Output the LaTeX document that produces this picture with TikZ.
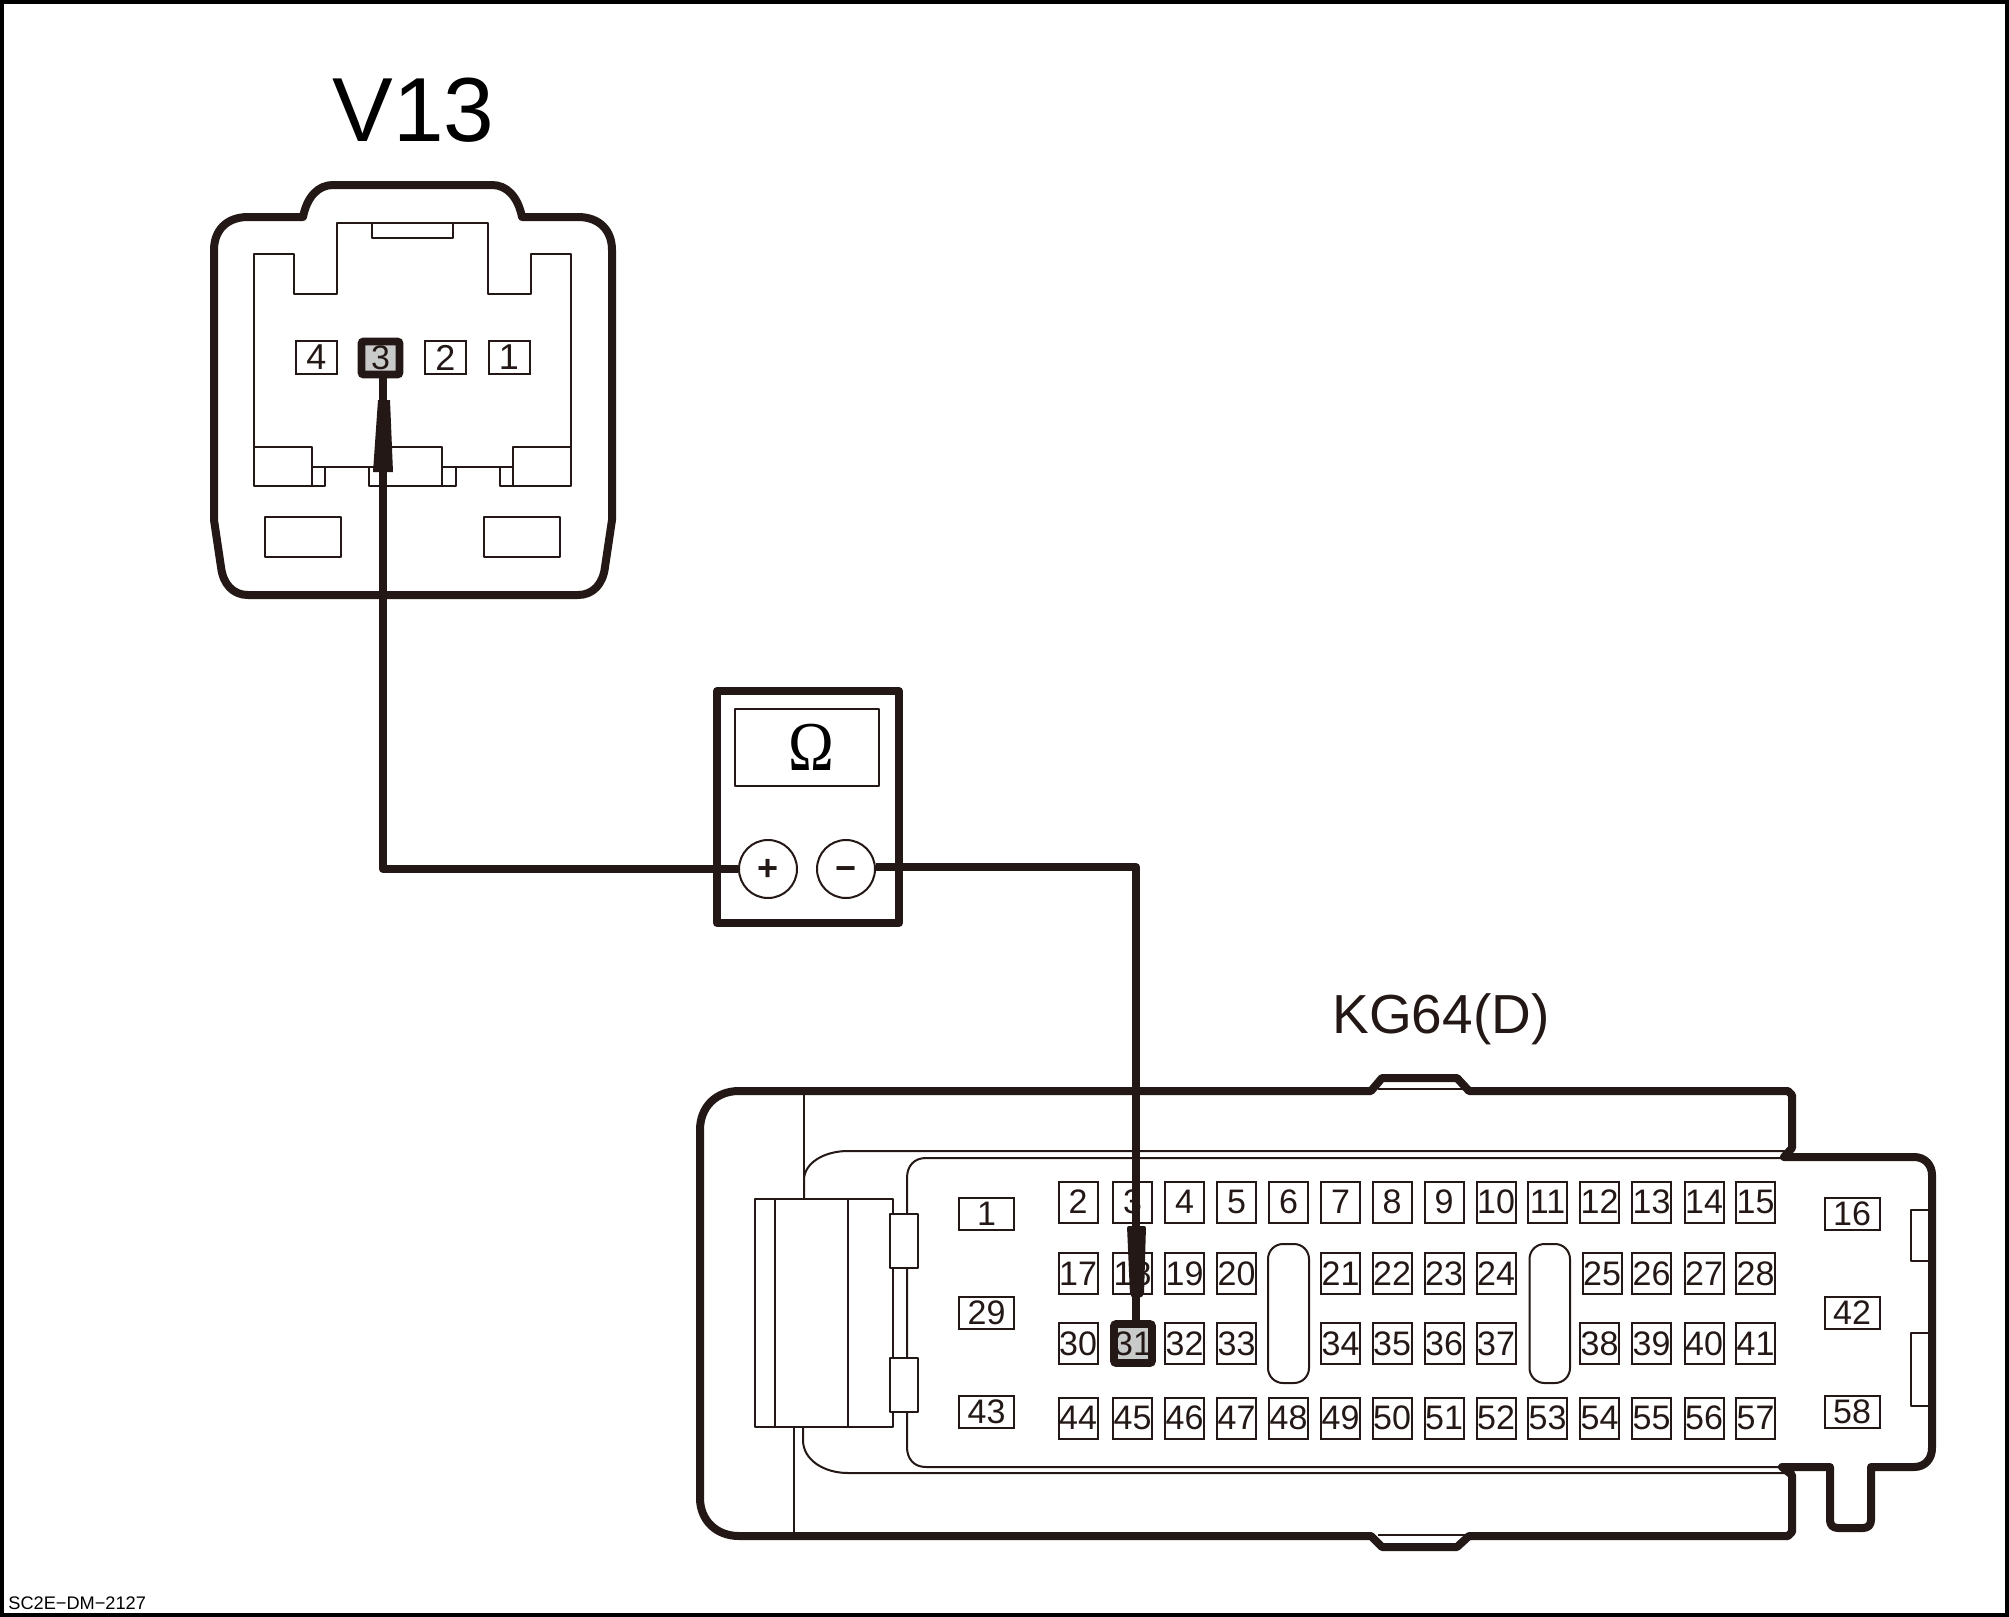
\documentclass[tikz,border=0pt]{standalone}
\usepackage{fontspec}
\setmainfont{Liberation Sans}
\newfontfamily\omegafont{Liberation Serif}
\usepackage{tkz-euclide}
\usetikzlibrary{calc}
\definecolor{ink}{HTML}{231815}
\definecolor{pingrey}{HTML}{C9CACA}
\tikzset{
  thick line/.style={ink, line width=4pt, line join=round, line cap=round},
  thin line/.style={ink, line width=1pt, line join=round},
  wire/.style={ink, line width=4pt, line join=round},
  pin/.style={draw=ink, line width=1pt, fill=white, inner sep=0pt, minimum width=19.5pt, minimum height=20.5pt, font=\fontsize{17}{17}\selectfont, text=ink},
  widepin/.style={pin, minimum width=27.5pt, minimum height=16pt},
  vpin/.style={pin, minimum width=20.5pt, minimum height=16.5pt, font=\fontsize{18}{18}\selectfont},
  hitpin/.style={draw=ink, line width=3.8pt, fill=pingrey, rounded corners=1pt, inner sep=0pt, font=\fontsize{17}{17}\selectfont, text=ink},
  jack/.style={circle, draw=ink, line width=1pt, fill=white, inner sep=0pt, minimum size=29pt, font=\fontsize{18}{18}\selectfont\bfseries, text=ink},
  title/.style={inner sep=0pt, text=ink}
}
\begin{document}
\begin{tikzpicture}[x=0.5pt, y=-0.5pt]
  \useasboundingbox (0,0) rectangle (2009,1617);
  \fill[white] (0,0) rectangle (2009,1617);
  \draw[black, line width=2.3pt] (2,2) rectangle (2007,1615);

  \node[title, text=black, font=\fontsize{45.5}{45.5}\selectfont] (vname) at (413.5,110) {V13};
  \node[title, font=\fontsize{27.5}{27.5}\selectfont] (kname) at (1441,1019) {KG64(D)};
  \node[anchor=base west, inner sep=0pt, text=black, font=\fontsize{9.1}{9.1}\selectfont] (code) at (8,1609) {SC2E−DM−2127};

  % connector V13
  \draw[thick line] (303,217) .. controls (307,197) and (318,185) .. (333,185) -- (492,185)
    .. controls (507,185) and (518,197) .. (522,217) -- (578,217)
    .. controls (600,217) and (612,231) .. (612,250) -- (612,520) -- (605,567)
    .. controls (603,584) and (593,595) .. (578,595) -- (248,595)
    .. controls (233,595) and (223,584) .. (221,567) -- (214,520) -- (214,250)
    .. controls (214,231) and (226,217) .. (248,217) -- cycle;
  \draw[thin line] (254,447) -- (254,254) -- (294,254) -- (294,294) -- (337,294) -- (337,223)
    -- (488,223) -- (488,294) -- (531,294) -- (531,254) -- (571,254) -- (571,486);
  \draw[thin line] (372,223) rectangle (453,238);
  \draw[thin line] (254,447) rectangle (312,486);
  \draw[thin line] (312,467) rectangle (325,486);
  \draw[thin line] (325,467) -- (369,467);
  \draw[thin line] (369,467) rectangle (383,486);
  \draw[thin line] (383,447) rectangle (442,486);
  \draw[thin line] (442,467) rectangle (456,486);
  \draw[thin line] (456,467) -- (500,467);
  \draw[thin line] (500,467) rectangle (513,486);
  \draw[thin line] (513,447) rectangle (571,486);
  \draw[thin line] (265,517) rectangle (341,557);
  \draw[thin line] (484,517) rectangle (560,557);
  \node[vpin] (v4) at (316.5,357.5) {4};
  \node[hitpin, minimum width=19pt, minimum height=16.5pt] (v3) at (380.5,358) {3};
  \node[vpin] (v2) at (445.5,357.5) {2};
  \node[vpin] (v1) at (509,357.5) {1};

  % meter
  \draw[ink, line width=4pt, line join=round] (717,691) rectangle (899,923);
  \draw[thin line] (735,709) rectangle (879,786);
  \node[title, text=black, font=\omegafont\fontsize{35}{35}\selectfont] (ohm) at (811,747) {\scalebox{0.88}[1]{Ω}};
  \node[jack] (plus) at (768,869) {\raisebox{-5.5pt}[0pt][0pt]{+}};
  \node[jack] (minus) at (846,869) {\raisebox{-5.5pt}[0pt][0pt]{−}};

  % connector KG64
  \draw[thick line] (739,1091) -- (1371,1091) -- (1382,1078) -- (1457,1078) -- (1469,1091)
    -- (1788,1091) -- (1792,1095) -- (1792,1148) -- (1784,1157) -- (1914,1157)
    .. controls (1925,1157) and (1932,1165) .. (1932,1175) -- (1932,1448)
    .. controls (1932,1459) and (1925,1467) .. (1914,1467) -- (1871,1467) -- (1871,1520)
    .. controls (1871,1525) and (1868,1528) .. (1863,1528) -- (1838,1528)
    .. controls (1833,1528) and (1830,1525) .. (1830,1520) -- (1830,1467) -- (1782,1467)
    -- (1792,1475) -- (1792,1532) -- (1788,1536) -- (1469,1536) -- (1457,1547)
    -- (1382,1547) -- (1371,1536) -- (739,1536)
    .. controls (716,1536) and (700,1520) .. (700,1498) -- (700,1130)
    .. controls (700,1107) and (716,1091) .. (739,1091) -- cycle;
  \draw[thin line] (1378,1089) -- (1465,1089);
  \draw[thin line] (1378,1535) -- (1465,1535);
  \draw[thin line] (804,1091) -- (804,1199);
  \draw[thin line] (794,1427) -- (794,1536);
  \draw[thin line] (804,1199) -- (804,1180) .. controls (804,1163) and (824,1151) .. (848,1151) -- (1788,1151);
  \draw[thin line] (803,1427) -- (803,1440) .. controls (803,1460) and (824,1473) .. (848,1473) -- (1788,1473);
  \draw[thin line] (1784,1158) -- (926,1158) .. controls (914,1158) and (907,1166) .. (907,1178) -- (907,1447)
    .. controls (907,1459) and (914,1467) .. (926,1467) -- (1782,1467);
  \draw[thin line, fill=white] (754.5,1199) rectangle (892.5,1427);
  \draw[thin line] (775,1199) -- (775,1427);
  \draw[thin line] (847.5,1199) -- (847.5,1427);
  \draw[thin line, fill=white] (890,1214) rectangle (918,1268);
  \draw[thin line, fill=white] (890,1358) rectangle (918,1412);
  \draw[thin line] (1932,1210) -- (1911,1210) -- (1911,1261) -- (1932,1261);
  \draw[thin line] (1932,1333) -- (1911,1333) -- (1911,1406) -- (1932,1406);
  \draw[thin line, rounded corners=7.5pt] (1268,1244) rectangle (1309,1383);
  \draw[thin line, rounded corners=7.5pt] (1529.5,1244) rectangle (1570,1383);

  \foreach \n/\x in {2/1078,3/1132.5,4/1184.5,5/1236.5,6/1288.5,7/1340.5,8/1392,9/1444,10/1496,11/1547.5,12/1599.5,13/1651.5,14/1704,15/1755.5}
    \node[pin] (k\n) at (\x,1202) {\n};
  \foreach \n/\x in {17/1078,18/1132.5,19/1184.5,20/1236.5,21/1340.5,22/1392,23/1444,24/1496,25/1602,26/1651.5,27/1704,28/1755.5}
    \node[pin] (k\n) at (\x,1273.5) {\n};
  \foreach \n/\x in {30/1078,32/1184.5,33/1236.5,34/1340.5,35/1392,36/1444,37/1496,38/1599.5,39/1651.5,40/1704,41/1755.5}
    \node[pin] (k\n) at (\x,1343.5) {\n};
  \foreach \n/\x in {44/1078,45/1132.5,46/1184.5,47/1236.5,48/1288.5,49/1340.5,50/1392,51/1444,52/1496,53/1547.5,54/1599.5,55/1651.5,56/1704,57/1755.5}
    \node[pin] (k\n) at (\x,1418) {\n};
  \node[widepin] (k1) at (986.5,1214) {1};
  \node[widepin] (k29) at (986.5,1313) {29};
  \node[widepin] (k43) at (986.5,1412) {43};
  \node[widepin] (k16) at (1852,1214) {16};
  \node[widepin] (k42) at (1852,1313) {42};
  \node[widepin] (k58) at (1852,1412) {58};
  \node[hitpin, minimum width=19pt, minimum height=19.5pt] (k31) at (1133,1343.5) {31};

  % leads and probes
  \tkzDefPoints{383/400/pa,383/869/pb,1136/867/ma,1136/1320/mb}
  \draw[wire] (v3.south -| pa) -- (pb) -- (plus.west);
  \draw[wire] (minus.east |- ma) -- (ma) -- (k31.north -| ma);
  \fill[ink] (378,400) -- (390,400) -- (393,472) -- (373,472) -- cycle;
  \fill[ink, rounded corners=1pt] (1127,1226) -- (1146,1226) -- (1144,1295) -- (1140,1298) -- (1133,1298) -- (1130,1295) -- cycle;
\end{tikzpicture}
\end{document}
